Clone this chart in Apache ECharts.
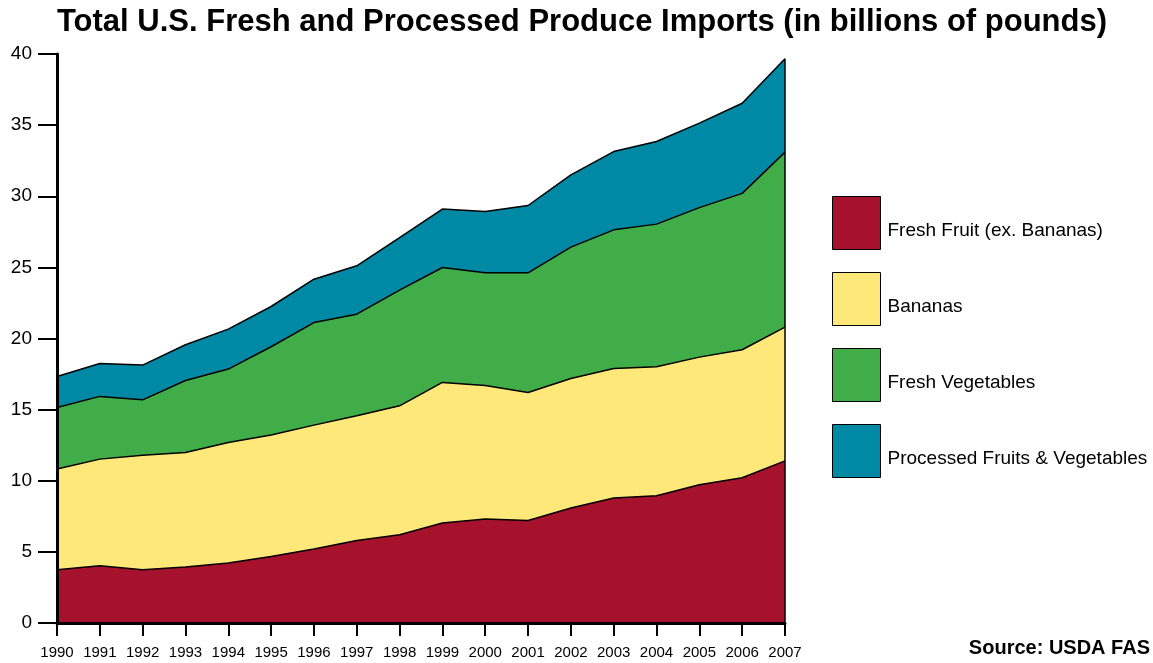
<!DOCTYPE html>
<html>
<head>
<meta charset="utf-8">
<script src="https://cdn.jsdelivr.net/npm/echarts@6/dist/echarts.min.js"></script>
<style>
html,body{margin:0;padding:0;background:#fff;}
#chart{width:1153px;height:663px;}
</style>
</head>
<body>
<div id="chart"></div>
<script>
const years = ['1990','1991','1992','1993','1994','1995','1996','1997','1998','1999','2000','2001','2002','2003','2004','2005','2006','2007'];
const freshFruit = [3.75,4.03,3.75,3.93,4.22,4.68,5.20,5.80,6.20,7.03,7.31,7.21,8.08,8.78,8.95,9.72,10.21,11.40];
const bananas = [7.07,7.49,8.05,8.06,8.47,8.53,8.71,8.77,9.07,9.88,9.39,8.99,9.11,9.11,9.06,8.97,9.00,9.40];
const freshVeg = [4.33,4.41,3.89,5.06,5.16,6.21,7.21,7.14,8.13,8.08,7.92,8.42,9.23,9.75,10.03,10.51,10.99,12.30];
const processed = [2.18,2.31,2.44,2.51,2.81,2.83,3.05,3.40,3.70,4.11,4.31,4.73,5.08,5.50,5.81,5.94,6.34,6.56];
const yTicks = {min:0, max:40, interval:5};

const names = ['Fresh Fruit (ex. Bananas)','Bananas','Fresh Vegetables','Processed Fruits & Vegetables'];
const colors = ['#A6122B','#FEE87A','#41AD49','#0089A5'];
const datasets = [freshFruit, bananas, freshVeg, processed];
const lastIdx = years.length - 1;
const lastTotal = datasets.reduce((s, d) => s + d[lastIdx], 0);

const FONT = '"Liberation Sans", Arial, Helvetica, sans-serif';

const series = datasets.map((d, i) => {
  const s = {
    name: names[i],
    type: 'line',
    stack: 'total',
    data: d,
    symbol: 'none',
    smooth: false,
    lineStyle: {color: '#000', width: 1.5},
    itemStyle: {color: colors[i], borderColor: '#000', borderWidth: 1},
    areaStyle: {color: colors[i], opacity: 1},
    emphasis: {disabled: true},
    z: 2
  };
  if (i === datasets.length - 1) {
    s.markLine = {
      silent: true,
      symbol: 'none',
      label: {show: false},
      lineStyle: {color: '#000', width: 1.5, type: 'solid'},
      data: [[{coord: [years[lastIdx], 0]}, {coord: [years[lastIdx], lastTotal]}]]
    };
  }
  return s;
});

const chart = echarts.init(document.getElementById('chart'), null, {renderer: 'canvas'});
chart.setOption({
  animation: false,
  backgroundColor: '#fff',
  textStyle: {fontFamily: FONT},
  title: {
    text: 'Total U.S. Fresh and Processed Produce Imports (in billions of pounds)',
    left: 582, textAlign: 'center', top: 7, padding: 0,
    textStyle: {fontFamily: FONT, fontWeight: 'bold', fontSize: 31, color: '#000'}
  },
  legend: {
    orient: 'vertical',
    left: 832, top: 196, padding: 0,
    itemWidth: 48, itemHeight: 53, itemGap: 22,
    icon: 'rect',
    selectedMode: false,
    itemStyle: {borderColor: '#000', borderWidth: 1},
    formatter: '{a|{name}}',
    textStyle: {
      fontFamily: FONT, fontSize: 19, color: '#000',
      rich: {a: {fontFamily: FONT, fontSize: 19, color: '#000', padding: [16, 0, 0, 2]}}
    },
    data: names
  },
  graphic: [{
    type: 'text', right: 3, top: 638,
    style: {text: 'Source: USDA FAS', font: 'bold 20px ' + FONT, fill: '#000'}
  }],
  grid: {left: 57, right: 368, top: 54, bottom: 40, containLabel: false},
  xAxis: {
    type: 'category', data: years, boundaryGap: false,
    axisLine: {lineStyle: {color: '#000', width: 3}},
    axisTick: {show: true, length: 13, lineStyle: {color: '#000', width: 2}, alignWithLabel: true},
    axisLabel: {color: '#000', fontSize: 15, fontFamily: FONT, margin: 22, interval: 0},
    splitLine: {show: false}, z: 5
  },
  yAxis: {
    type: 'value', min: yTicks.min, max: yTicks.max, interval: yTicks.interval,
    axisLine: {show: true, lineStyle: {color: '#000', width: 3}},
    axisTick: {show: true, length: 19, lineStyle: {color: '#000', width: 2}},
    axisLabel: {color: '#000', fontSize: 19, fontFamily: FONT, margin: 25},
    splitLine: {show: false}, z: 5
  },
  series: series
});
</script>
</body>
</html>
